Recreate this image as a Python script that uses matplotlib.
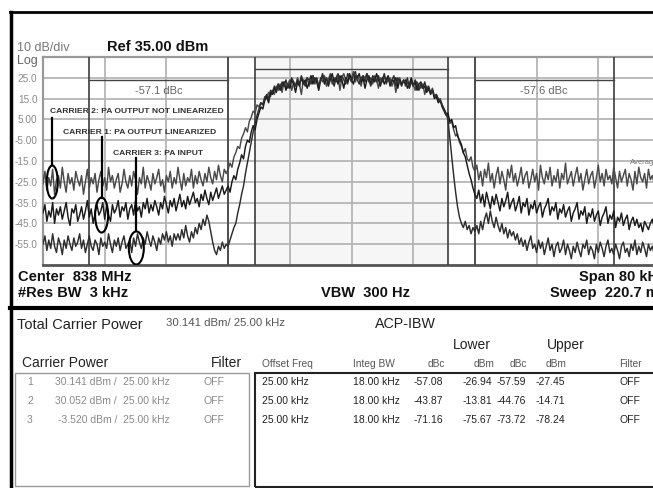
import numpy as np
import matplotlib
matplotlib.use('Agg')
import matplotlib.pyplot as plt
from matplotlib.patches import Ellipse, Rectangle
from matplotlib.lines import Line2D
from matplotlib import font_manager

# ---------------- data ----------------
freq_khz = np.arange(-40, 40.001, 0.25)   # offset from 838 MHz centre, 321 points

carrier2_dbm = [  # PA output not linearized
    # -40 .. -16.25 kHz
    -26, -20, -29, -23, -27, -19, -31, -24, -22, -28,
    -18, -25, -30, -21, -26, -23, -29, -20, -24, -27,
    -22, -31, -25, -19, -28, -23, -26, -21, -30, -24,
    -20, -27, -23, -29, -18, -25, -22, -28, -24, -21,
    -30, -26, -19, -25, -28, -22, -27, -20, -24, -31,
    -23, -26, -18, -28, -22, -25, -29, -21, -26, -23,
    -19, -27, -24, -30, -22, -25, -20, -28, -23, -26,
    -18, -24, -29, -21, -27, -23, -25, -19, -28, -22,
    -26, -20, -24, -27, -21, -25, -18, -23, -26, -20,
    -24, -17, -22, -25, -19, -21,
    # -16 .. -12.25 kHz
    -19, -16, -18, -13, -11, -8, -9, -4, -2, 1, -1, 4, 6, 9, 8, 12,
    # -12 .. 12 kHz
    11, 13, 12, 16, 15, 18, 16, 19, 17, 21, 19, 22,
    18, 23, 20, 22, 24, 19, 23, 21, 25, 22, 17, 24, 22, 25, 21, 24,
    26, 22, 24, 20, 25, 23, 26, 21, 24, 27, 22, 25, 23, 26, 19, 25,
    27, 24, 22, 26, 25, 28, 23, 26, 24, 21, 26, 25, 27, 23, 25, 22,
    26, 24, 20, 25, 23, 26, 22, 24, 25, 21, 24, 18, 23, 25, 22, 24,
    21, 23, 20, 24, 22, 19, 23, 21, 20, 22, 17, 21, 19, 18, 20, 16,
    17, 14, 15, 12, 10,
    # 12.25 .. 16 kHz
    8, 6, 3, 4, 0, -3, -2, -6, -8, -11, -9, -14, -15, -13, -18, -20,
    # 16.25 .. 40 kHz
    -17, -24, -20, -27, -19, -23, -16, -25, -21, -28,
    -22, -18, -26, -20, -24, -29, -19, -23, -17, -25,
    -21, -27, -23, -18, -26, -22, -20, -28, -24, -19,
    -25, -21, -29, -17, -23, -26, -20, -24, -18, -27,
    -22, -25, -19, -28, -21, -24, -16, -26, -23, -20,
    -27, -22, -18, -25, -21, -29, -24, -19, -26, -22,
    -20, -28, -23, -17, -25, -21, -27, -19, -24, -22,
    -26, -18, -23, -28, -20, -25, -22, -19, -27, -21,
    -24, -29, -20, -26, -18, -23, -25, -21, -28, -19,
    -24, -22, -26, -20, -25, -23,
]
carrier1_dbm = [  # PA output linearized
    -40, -36, -44, -39, -42, -35, -45, -38, -41, -37,
    -43, -39, -35, -42, -46, -38, -40, -36, -44, -41,
    -37, -43, -39, -34, -42, -38, -45, -40, -36, -41,
    -39, -35, -43, -37, -41, -44, -36, -40, -38, -34,
    -42, -37, -39, -35, -43, -38, -36, -41, -34, -39,
    -37, -42, -35, -38, -33, -40, -36, -39, -34, -37,
    -41, -35, -38, -32, -36, -40, -34, -37, -33, -39,
    -35, -31, -37, -34, -38, -32, -36, -33, -30, -35,
    -33, -37, -31, -34, -29, -33, -36, -30, -34, -31,
    -28, -33, -30, -27, -31, -29,
    -27, -30, -25, -22, -24, -19, -16, -12, -14, -8, -5, -6, -1, 2, 0, 5,
    8, 11, 10, 14, 16, 13, 18, 17, 20, 18, 22, 19,
    21, 23, 19, 22, 20, 24, 22, 18, 23, 21, 25, 22, 24, 20, 23, 26,
    22, 25, 23, 19, 24, 26, 22, 25, 21, 24, 27, 23, 25, 22, 26, 24,
    20, 25, 23, 27, 24, 22, 26, 25, 27, 23, 25, 20, 24, 26, 22, 25,
    23, 27, 24, 21, 25, 22, 24, 26, 21, 24, 23, 25, 20, 24, 22, 23,
    24, 20, 22, 25, 21, 23, 19, 22, 23, 20, 21, 18, 20, 17, 19, 15,
    16, 13, 14, 11, 9,
    7, 8, 4, 5, 1, 2, -3, -5, -7, -11, -13, -17, -21, -24, -28, -31,
    -33, -29, -35, -31, -37, -30, -34, -38, -32, -36,
    -31, -35, -39, -33, -37, -34, -30, -38, -35, -33,
    -39, -36, -32, -40, -35, -37, -33, -41, -36, -38,
    -34, -40, -37, -35, -42, -38, -36, -33, -41, -37,
    -39, -35, -43, -38, -40, -36, -42, -39, -37, -44,
    -40, -38, -35, -43, -39, -41, -37, -45, -40, -42,
    -38, -44, -41, -39, -46, -42, -40, -37, -45, -41,
    -43, -39, -47, -42, -44, -40, -46, -43, -41, -48,
    -44, -42, -46, -43, -47, -45, -49, -44, -46, -48,
    -45, -43, -47, -46, -44, -48,
]
carrier3_dbm = [  # PA input
    -55, -51, -58, -53, -57, -50, -56, -59, -52, -55,
    -60, -53, -57, -51, -55, -58, -52, -56, -54, -50,
    -57, -53, -59, -55, -51, -56, -58, -53, -55, -60,
    -52, -56, -54, -57, -50, -55, -59, -53, -56, -52,
    -58, -54, -51, -57, -55, -53, -59, -52, -56, -50,
    -54, -57, -52, -55, -49, -53, -56, -51, -54, -58,
    -52, -55, -50, -53, -49, -54, -51, -56, -50, -53,
    -50, -53, -48, -52, -46, -51, -54, -49, -52, -47,
    -50, -45, -48, -43, -46, -41, -44, -49, -54, -58,
    -60, -56, -58, -54, -57, -55,
    -56, -53, -50, -47, -45, -40, -36, -31, -27, -21, -16, -11, -6, -1, 3, 7,
    10, 13, 12, 15, 17, 15, 19, 18, 21, 19, 22, 20,
    23, 21, 24, 20, 22, 25, 23, 21, 24, 22, 26, 23, 21, 25, 24, 22,
    26, 23, 25, 21, 24, 27, 23, 25, 22, 26, 24, 21, 25, 27, 23, 26,
    24, 22, 27, 25, 23, 26, 28, 24, 22, 25, 26, 23, 27, 24, 21, 26,
    25, 23, 26, 22, 24, 27, 23, 25, 22, 24, 26, 21, 25, 23, 21, 24,
    22, 25, 20, 23, 21, 24, 22, 19, 22, 20, 23, 19, 21, 18, 19, 16,
    17, 15, 14, 12, 10,
    8, 5, -4, -13, -22, -30, -37, -42, -45, -47, -44, -48, -46, -50, -47, -49,
    -46, -50, -44, -48, -43, -40, -45, -39, -44, -47,
    -42, -46, -49, -45, -50, -47, -52, -48, -51, -49,
    -53, -50, -55, -52, -56, -53, -58, -54, -51, -57,
    -55, -59, -53, -57, -54, -60, -56, -52, -58, -55,
    -61, -56, -54, -59, -57, -53, -60, -55, -58, -62,
    -56, -59, -54, -58, -61, -55, -57, -53, -60, -56,
    -58, -62, -55, -59, -54, -57, -61, -56, -53, -59,
    -57, -60, -55, -58, -62, -56, -54, -59, -57, -61,
    -55, -58, -53, -60, -56, -59, -54, -57, -61, -55,
    -58, -56, -60, -54, -57, -59,
]

y_tick_values = [25, 15, 5, -5, -15, -25, -35, -45, -55]
y_tick_labels = ["25.0", "15.0", "5.00", "-5.00", "-15.0", "-25.0", "-35.0", "-45.0", "-55.0"]
x_grid_khz = [-32, -24, -16, -8, 0, 8, 16, 24, 32]
channel_edges_khz = [-34, -16, -12.5, 12.5, 16, 34]
acp_lower_text = "-57.1 dBc"
acp_upper_text = "-57.6 dBc"

carrier_rows = [
    ("1", "30.141 dBm /", "25.00 kHz", "OFF"),
    ("2", "30.052 dBm /", "25.00 kHz", "OFF"),
    ("3", "-3.520 dBm /", "25.00 kHz", "OFF"),
]
acp_rows = [
    ("25.00 kHz", "18.00 kHz", "-57.08", "-26.94", "-57.59", "-27.45", "OFF"),
    ("25.00 kHz", "18.00 kHz", "-43.87", "-13.81", "-44.76", "-14.71", "OFF"),
    ("25.00 kHz", "18.00 kHz", "-71.16", "-75.67", "-73.72", "-78.24", "OFF"),
]

# ---------------- figure ----------------
names = {f.name for f in font_manager.fontManager.ttflist}
base = 'Liberation Sans' if 'Liberation Sans' in names else 'DejaVu Sans'
narrow = 'Liberation Sans Narrow' if 'Liberation Sans Narrow' in names else None
plt.rcParams['font.family'] = [base, 'DejaVu Sans']

W, H = 653, 488
fig = plt.figure(figsize=(W / 100, H / 100), dpi=100)
fig.patch.set_facecolor('white')


def ftext(x, y, s, **kw):
    kw.setdefault('va', 'center')
    kw.setdefault('ha', 'left')
    return fig.text(x / W, 1 - y / H, s, **kw)


def fline(xs, ys, **kw):
    fig.add_artist(Line2D([x / W for x in xs], [1 - y / H for y in ys],
                          transform=fig.transFigure, **kw))


def frect(x0, y0, x1, y1, **kw):
    fig.add_artist(Rectangle((x0 / W, 1 - y1 / H), (x1 - x0) / W, (y1 - y0) / H,
                             transform=fig.transFigure, fill=False, **kw))


# spectrum axes (right edge extends beyond the screenshot crop, as in the original)
top_px, bot_px, left_px, right_px = 57, 265, 43, 660
ax = fig.add_axes([left_px / W, 1 - bot_px / H, (right_px - left_px) / W, (bot_px - top_px) / H])
ax.set_xlim(-40, 40)
ax.set_ylim(-65, 35)
ax.set_facecolor('white')
ax.axvspan(channel_edges_khz[2], channel_edges_khz[3], color='#f6f6f6', zorder=0)
ax.set_xticks(x_grid_khz)
ax.set_yticks(y_tick_values)
ax.set_yticklabels(y_tick_labels)
ax.grid(True, color='#b5b5b5', lw=1.3, zorder=1)
ax.tick_params(axis='x', length=0, labelbottom=False)
ax.tick_params(axis='y', length=0, pad=4, labelsize=7.2, labelcolor='#8a8a8a')
for s in ['top', 'left']:
    ax.spines[s].set_color('#9a9a9a')
    ax.spines[s].set_linewidth(1.6)
ax.spines['bottom'].set_color('#555555')
ax.spines['bottom'].set_linewidth(2)
ax.spines['right'].set_visible(False)

for e in channel_edges_khz:
    ax.axvline(e, color='#3c3c3c', lw=1.2, zorder=3)

# measurement brackets
ax.plot([channel_edges_khz[0], channel_edges_khz[1]], [24.0, 24.0], color='#444', lw=1.0, zorder=3)
ax.plot([channel_edges_khz[4], channel_edges_khz[5]], [24.0, 24.0], color='#444', lw=1.0, zorder=3)
ax.plot([channel_edges_khz[2], channel_edges_khz[3]], [29.2, 29.2], color='#444', lw=1.0, zorder=3)
ax.text(-25, 18.7, acp_lower_text, ha='center', va='center', fontsize=8, color='#666', zorder=4)
ax.text(25, 18.7, acp_upper_text, ha='center', va='center', fontsize=8, color='#666', zorder=4)
ax.text(36.1, -15.5, "Average", ha='left', va='center', fontsize=5.5, color='#777', zorder=4)

# traces
ax.plot(freq_khz, carrier2_dbm, color='#4a4a4a', lw=1.05, zorder=5)
ax.plot(freq_khz, carrier1_dbm, color='#1a1a1a', lw=1.05, zorder=6)
ax.plot(freq_khz, carrier3_dbm, color='#2e2e2e', lw=1.05, zorder=7)

# annotations
if narrow:
    ann_kw = dict(fontsize=7.3, family=[narrow, 'DejaVu Sans'])
else:
    ann_kw = dict(fontsize=6.1)
ann_kw.update(fontweight='bold', color='#333333', ha='left', va='center', zorder=8)
ax.text(-39.1, 8.6, "CARRIER 2: PA OUTPUT NOT LINEARIZED", **ann_kw)
ax.text(-37.4, -1.1, "CARRIER 1: PA OUTPUT LINEARIZED", **ann_kw)
ax.text(-30.9, -11.2, "CARRIER 3: PA INPUT", **ann_kw)
for xk, ytop, ybot, yc, w, h in [(-38.8, 5.7, -17.1, -25.1, 1.43, 15.9),
                                  (-32.4, -3.5, -32.6, -41.0, 1.69, 16.8),
                                  (-27.9, -13.6, -48.8, -56.8, 1.95, 15.9)]:
    ax.plot([xk, xk], [ytop, ybot], color='black', lw=1.6, zorder=9)
    ax.add_patch(Ellipse((xk, yc), w, h, fill=False, ec='black', lw=1.5, zorder=9))

# ---------------- screen text / frame ----------------
fline([10, 653], [12, 12], color='black', lw=2)
fline([11, 11], [12, 488], color='black', lw=2.5)
fline([10, 653], [308, 308], color='black', lw=3)

ftext(17, 48, "10 dB/div", fontsize=9, color='#777')
ftext(107, 47, "Ref 35.00 dBm", fontsize=10.5, fontweight='bold', color='#111')
ftext(17, 61, "Log", fontsize=9, color='#666')

bold = dict(fontsize=10.5, fontweight='bold', color='#111')
ftext(18, 277, "Center  838 MHz", **bold)
ftext(18, 293, "#Res BW  3 kHz", **bold)
ftext(321, 293, "VBW  300 Hz", **bold)
ftext(579, 277, "Span 80 kHz", **bold)
ftext(550, 293, "Sweep  220.7 ms", **bold)

ftext(17, 325, "Total Carrier Power", fontsize=10.5, color='#222')
ftext(166, 323, "30.141 dBm/ 25.00 kHz", fontsize=8.2, color='#555')
ftext(375, 324, "ACP-IBW", fontsize=10.3, color='#222')
ftext(472, 345, "Lower", fontsize=10, color='#222', ha='center')
ftext(566, 345, "Upper", fontsize=10, color='#222', ha='center')
ftext(22, 363, "Carrier Power", fontsize=10, color='#222')
ftext(211, 363, "Filter", fontsize=10, color='#222')

hdr = dict(fontsize=7.3, color='#555')
ftext(262, 364, "Offset Freq", **hdr)
ftext(353, 364, "Integ BW", **hdr)
ftext(445, 364, "dBc", ha='right', **hdr)
ftext(494, 364, "dBm", ha='right', **hdr)
ftext(527, 364, "dBc", ha='right', **hdr)
ftext(566, 364, "dBm", ha='right', **hdr)
ftext(619, 364, "Filter", **hdr)

frect(15, 373, 249, 486, ec='#9a9a9a', lw=1.0)
frect(255, 373, 662, 487, ec='#222222', lw=1.5)

row_y = [382, 401, 420]
for y, (n, p, bw, flt) in zip(row_y, carrier_rows):
    kw = dict(fontsize=7.5, color='#8a8a8a')
    ftext(27, y, n, **kw)
    ftext(117, y, p, ha='right', **kw)
    ftext(123, y, bw, **kw)
    ftext(204, y, flt, **kw)

for y, (off, ibw, ldbc, ldbm, udbc, udbm, flt) in zip(row_y, acp_rows):
    kw = dict(fontsize=7.5, color='#222')
    ftext(262, y, off, **kw)
    ftext(353, y, ibw, **kw)
    ftext(443, y, ldbc, ha='right', **kw)
    ftext(492, y, ldbm, ha='right', **kw)
    ftext(526, y, udbc, ha='right', **kw)
    ftext(565, y, udbm, ha='right', **kw)
    ftext(620, y, flt, **kw)

fig.savefig('out.png', dpi=100)
